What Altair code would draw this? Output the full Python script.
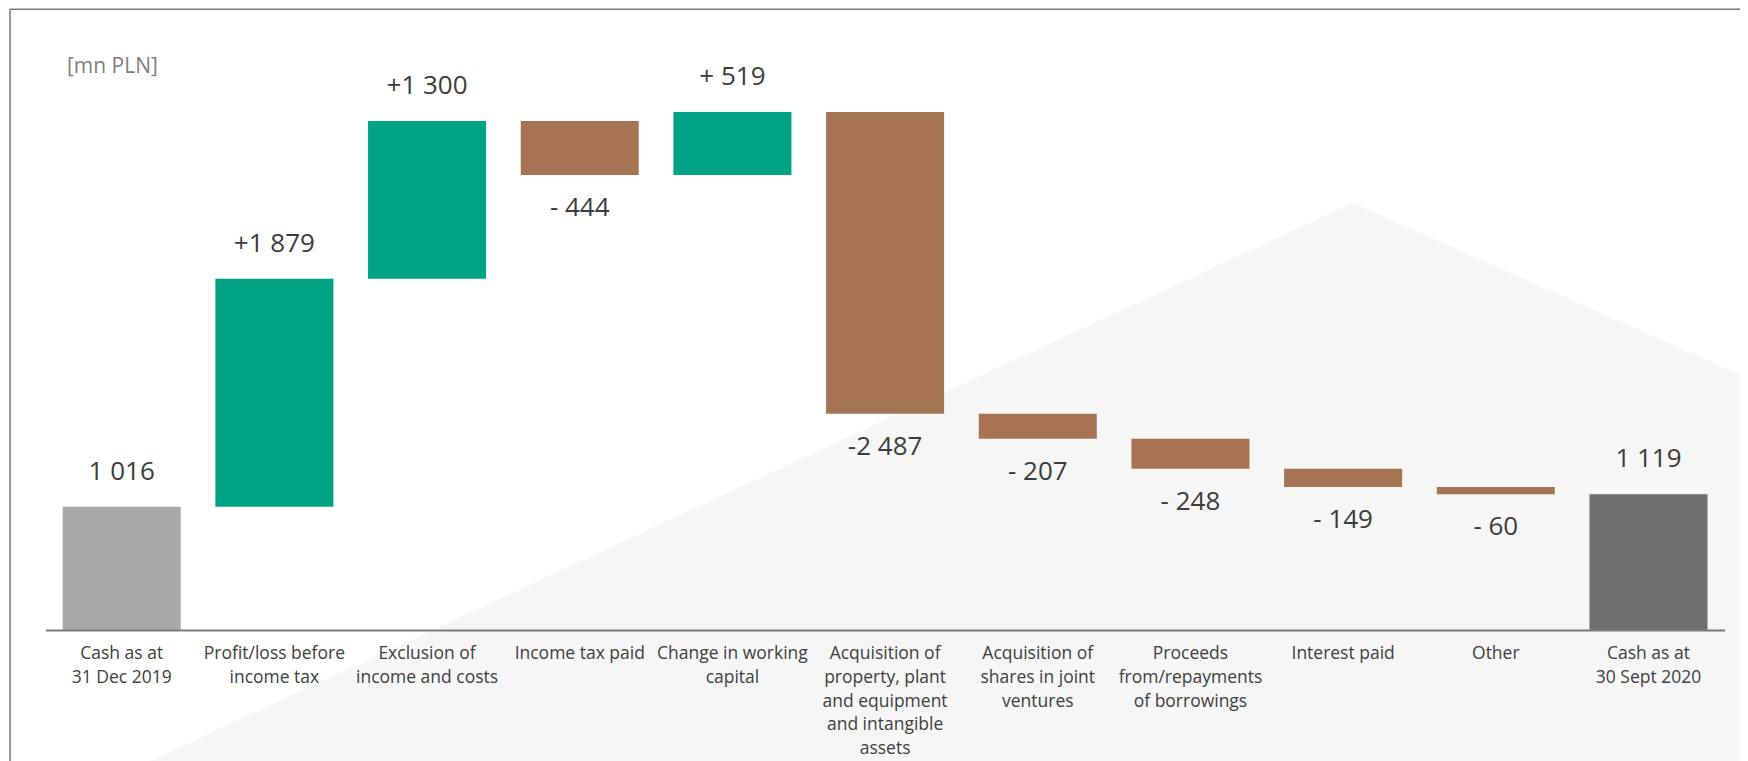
import altair as alt
import pandas as pd

# ---- data ----
categories = [
    "Cash as at|31 Dec 2019",
    "Profit/loss before|income tax",
    "Exclusion of|income and costs",
    "Income tax paid",
    "Change in working|capital",
    "Acquisition of|property, plant|and equipment|and intangible|assets",
    "Acquisition of|shares in joint|ventures",
    "Proceeds|from/repayments|of borrowings",
    "Interest paid",
    "Other",
    "Cash as at|30 Sept 2020",
]
values = [1016, 1879, 1300, -444, 519, -2487, -207, -248, -149, -60, 1119]
kinds = ["opening", "increase", "increase", "decrease", "increase", "decrease",
         "decrease", "decrease", "decrease", "decrease", "closing"]
value_labels = ["1 016", "+1 879", "+1 300", "- 444", "+ 519", "-2 487",
                "- 207", "- 248", "- 149", "- 60", "1 119"]
unit_label = "[mn PLN]"

# ---- waterfall geometry derived from the values ----
starts, ends = [], []
running = 0
for v, k in zip(values, kinds):
    if k in ("opening", "closing"):
        s, e = 0, v
        running = v
    else:
        s, e = running, running + v
        running = e
    starts.append(s)
    ends.append(e)

df = pd.DataFrame({
    "category": categories,
    "value": values,
    "kind": kinds,
    "label": value_labels,
    "start": starts,
    "end": ends,
})
df["top"] = df[["start", "end"]].max(axis=1)
df["bottom"] = df[["start", "end"]].min(axis=1)

W, H = 1679, 546
FONT = "Open Sans"

x_enc = alt.X(
    "category:N",
    sort=categories,
    scale=alt.Scale(paddingInner=0.227, paddingOuter=0.112),
    axis=alt.Axis(
        title=None,
        labelAngle=0,
        labelExpr="split(datum.label, '|')",
        labelFont=FONT,
        labelFontSize=17.5,
        labelColor="#404040",
        labelLineHeight=23.6,
        labelPadding=15,
        labelOverlap=False,
        labelLimit=0,
        ticks=False,
        tickSize=0,
        domainColor="#7a7a7a",
        domainWidth=2,
        grid=False,
        zindex=1,
    ),
)
y_scale = alt.Scale(domain=[0, 4500])

base = alt.Chart(df)

bars = base.mark_bar().encode(
    x=x_enc,
    y=alt.Y("start:Q", scale=y_scale, axis=None),
    y2="end:Q",
    color=alt.Color(
        "kind:N",
        scale=alt.Scale(
            domain=["opening", "increase", "decrease", "closing"],
            range=["#a8a8a8", "#00a383", "#a67453", "#6f6f6f"],
        ),
        legend=None,
    ),
)

labels_up = base.transform_filter("datum.kind != 'decrease'").mark_text(
    dy=-35, fontSize=26, font=FONT, color="#3c3c3c", baseline="middle"
).encode(
    x=alt.X("category:N", sort=categories),
    y=alt.Y("top:Q", scale=y_scale),
    text="label:N",
)

labels_down = base.transform_filter("datum.kind == 'decrease'").mark_text(
    dy=33, fontSize=26, font=FONT, color="#3c3c3c", baseline="middle"
).encode(
    x=alt.X("category:N", sort=categories),
    y=alt.Y("bottom:Q", scale=y_scale),
    text="label:N",
)

deco = alt.Chart(pd.DataFrame({"t": [unit_label]}))

# light backdrop "roof" shape (decoration)
backdrop = deco.mark_point(
    shape="M0,0 L600,266 L600,900 L-1500,900 L-1500,696 Z",
    filled=True, fill="#f6f6f6", stroke=None, strokeWidth=0, opacity=1, size=4,
).encode(x=alt.value(1307), y=alt.value(119))

frame_top = deco.mark_rule(color="#777777", strokeWidth=1.5).encode(
    x=alt.value(-35.6), x2=alt.value(W + 100), y=alt.value(-74.7)
)
frame_left = deco.mark_rule(color="#777777", strokeWidth=1.5).encode(
    x=alt.value(-35.6), y=alt.value(-74.7), y2=alt.value(H + 200)
)

unit_text = deco.mark_text(
    align="left", baseline="middle", fontSize=21, font=FONT, color="#808080"
).encode(x=alt.value(21.4), y=alt.value(-17), text="t:N")

chart = alt.layer(
    backdrop, frame_top, frame_left, bars, labels_up, labels_down, unit_text
).properties(
    width=W,
    height=H,
    autosize=alt.AutoSizeParams(type="none"),
    padding={"left": 37.6, "top": 76, "right": 15, "bottom": 131},
    background="white",
).configure_view(stroke=None)

chart.save("out.html", embed_options={"renderer": "svg", "actions": False})
